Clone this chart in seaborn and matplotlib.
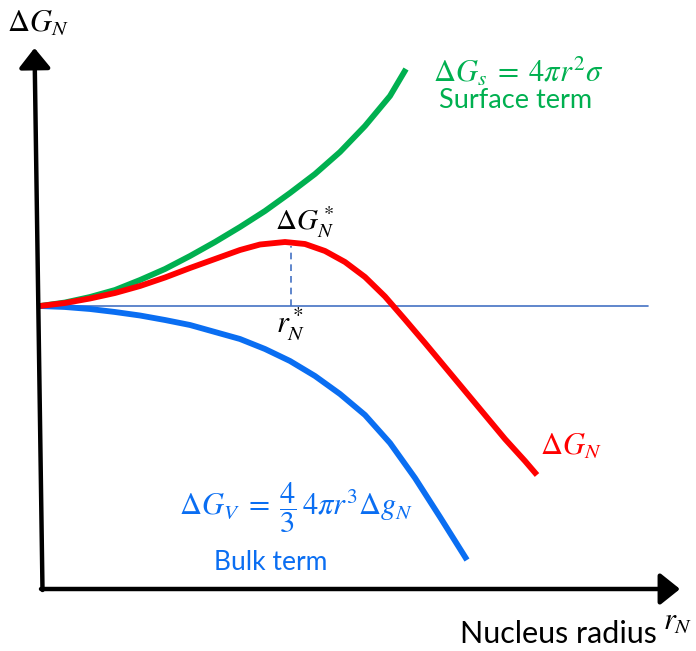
import matplotlib
matplotlib.use("Agg")
import matplotlib.pyplot as plt
import seaborn as sns
import pandas as pd

# ---- data (chart units: radius r, free energy change dG) ----
surf_r = [0.00, 0.25, 0.50, 0.75, 1.00, 1.25, 1.50, 1.75, 2.00, 2.25, 2.50,
          2.75, 3.00, 3.25, 3.50, 3.66]
surf_g = [0.00, 0.035, 0.09, 0.16, 0.26, 0.37, 0.50, 0.64, 0.79, 0.95, 1.13,
          1.32, 1.54, 1.80, 2.10, 2.37]

total_r = [0.00, 0.25, 0.50, 0.75, 1.00, 1.25, 1.50, 1.75, 2.00, 2.20, 2.45,
           2.65, 2.85, 3.05, 3.25, 3.45, 3.65, 3.85, 4.05, 4.25, 4.45, 4.65,
           4.85, 4.97]
total_g = [0.00, 0.03, 0.075, 0.13, 0.20, 0.285, 0.38, 0.47, 0.56, 0.615, 0.64,
           0.62, 0.55, 0.44, 0.29, 0.095, -0.135, -0.37, -0.61, -0.85, -1.09,
           -1.33, -1.55, -1.69]

bulk_r = [0.00, 0.25, 0.50, 0.75, 1.00, 1.25, 1.50, 1.75, 2.00, 2.25, 2.50,
          2.75, 3.00, 3.25, 3.50, 3.75, 4.00, 4.27]
bulk_g = [0.00, -0.01, -0.03, -0.06, -0.095, -0.14, -0.19, -0.26, -0.33, -0.43,
          -0.55, -0.70, -0.88, -1.09, -1.37, -1.72, -2.11, -2.54]

r_crit = 2.51
g_crit = 0.60
baseline_r = [-0.02, 6.08]

GREEN = "#00B050"
RED = "#FF0000"
BLUE = "#0A6EF2"
THIN = "#4472C4"

sns.set_style("white")
plt.rcParams["mathtext.fontset"] = "stix"
plt.rcParams["font.family"] = ["Lato", "DejaVu Sans"]

W, H = 696, 651
fig = plt.figure(figsize=(W / 100, H / 100), dpi=100)
ax = fig.add_axes([0, 0, 1, 1])
# 1 chart unit = 100 px, origin at pixel (40, 306)
ax.set_xlim(-0.40, (W - 40) / 100)
ax.set_ylim(-(H - 306) / 100, 3.06)
ax.axis("off")

# thin zero line and dashed critical radius marker
ax.plot(baseline_r, [0, 0], color=THIN, lw=1.2, zorder=1)
ax.plot([r_crit, r_crit], [0, g_crit], color=THIN, lw=1.2, ls=(0, (4, 3)), zorder=1)

df_s = pd.DataFrame({"r": surf_r, "g": surf_g})
df_t = pd.DataFrame({"r": total_r, "g": total_g})
df_b = pd.DataFrame({"r": bulk_r, "g": bulk_g})
for df, col in [(df_s, GREEN), (df_b, BLUE), (df_t, RED)]:
    sns.lineplot(data=df, x="r", y="g", color=col, lw=4.2, ax=ax,
                 solid_capstyle="butt", solid_joinstyle="round", zorder=3)

# axes arrows
arrow = dict(arrowstyle="-|>,head_length=0.6,head_width=0.48",
             mutation_scale=20, lw=3.2, color="black", shrinkA=0, shrinkB=0)
ax.annotate("", xy=(-0.055, 2.58), xytext=(0.025, -2.84), arrowprops=arrow,
            annotation_clip=False)
ax.annotate("", xy=(6.40, -2.83), xytext=(0.01, -2.83), arrowprops=arrow,
            annotation_clip=False)

def P(x, y):
    return x / W, 1 - y / H

def ftext(x, y, s, **kw):
    fig.text(*P(x, y), s, va="baseline", **kw)

ftext(38, 32, r"$\Delta G_N$", ha="center", fontsize=22, color="black")
ftext(518, 82, r"$\Delta G_s\;=\;4\pi r^2\sigma$", ha="center", fontsize=22, color=GREEN)
ftext(516, 108, "Surface term", ha="center", fontsize=19.5, color=GREEN)
ftext(304, 230, r"$\Delta G_N^*$", ha="center", fontsize=21, color="black")
ftext(291, 333, r"$r_N^*$", ha="center", fontsize=22, color="black")
ftext(571, 455, r"$\Delta G_N$", ha="center", fontsize=22, color=RED)
ftext(296, 515, r"$\Delta G_V\;=\;\dfrac{4}{3}\,4\pi r^3\Delta g_N$", ha="center",
      fontsize=22, color=BLUE)
ftext(271, 570, "Bulk term", ha="center", fontsize=19, color=BLUE)
ftext(558, 643, "Nucleus radius", ha="center", fontsize=22, color="black")
ftext(678, 630, r"$r_N$", ha="center", fontsize=22, color="black")

fig.savefig("out.png", dpi=100)
